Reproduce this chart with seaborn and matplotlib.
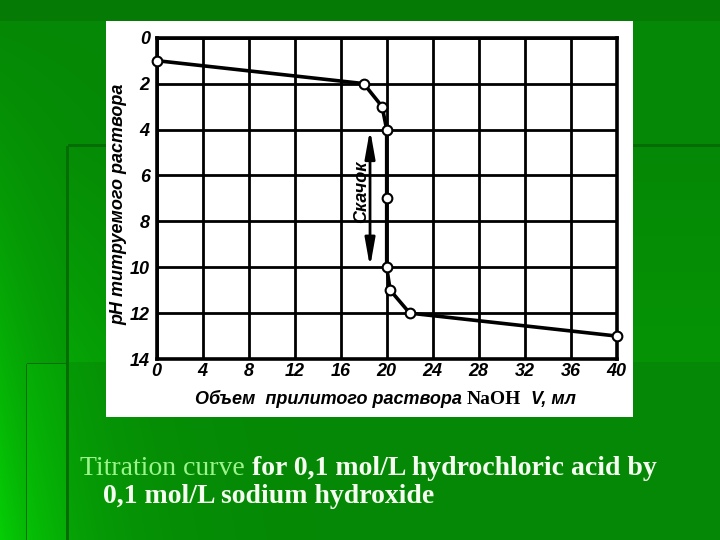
import numpy as np
import matplotlib
matplotlib.use("Agg")
import matplotlib.pyplot as plt
import seaborn as sns
from matplotlib.patches import Rectangle

# ---- data ----
volume_ml = [0, 18, 19.6, 20, 20, 20, 20.3, 22, 40]
ph_values = [1.0, 2.0, 3.0, 4.0, 7.0, 10.0, 11.0, 12.0, 13.0]
x_ticks = [0, 4, 8, 12, 16, 20, 24, 28, 32, 36, 40]
y_ticks = [0, 2, 4, 6, 8, 10, 12, 14]
jump_range = [4.0, 10.0]

sns.set_theme(style="white")
plt.rcParams['font.family'] = ['Liberation Sans', 'DejaVu Sans']

W, H = 720, 540
fig = plt.figure(figsize=(7.2, 5.4), dpi=100)

# ---- slide background ----
bg = fig.add_axes([0, 0, 1, 1], zorder=-10)
yy, xx = np.mgrid[0:H, 0:W].astype(float)
g = 136 + 70 * np.exp(-xx / 75.0) * (yy / H) ** 1.3
inner = (xx > 67) & (yy > 145) & (yy < 362)
g = np.where(inner, g + 12 * (yy - 145) / 217, g)
g = np.where((xx > 26) & (xx < 67) & (yy > 363), g + 8, g)
g = np.where(yy < 21, 122, g)
img = np.zeros((H, W, 3))
img[..., 1] = np.clip(g, 0, 255) / 255
img[..., 0] = 0.02
img[..., 2] = 0.02
dark = (((np.abs(xx - 67) < 1.5) & (yy > 145)) |
        ((np.abs(yy - 145) < 1.5) & (xx > 67)) |
        ((np.abs(xx - 26) < 1.0) & (yy > 363)) |
        ((np.abs(yy - 363) < 1.0) & (xx > 26) & (xx < 67)))
img[dark, 1] = 0.43
bg.imshow(img, extent=[0, 1, 0, 1], aspect='auto')
bg.set_axis_off()

# white panel
fig.patches.append(Rectangle((106 / W, 1 - 417 / H), (633 - 106) / W, (417 - 21) / H,
                             transform=fig.transFigure, facecolor='white',
                             edgecolor='none', zorder=-5))

# ---- chart ----
ax = fig.add_axes([156.7 / W, 1 - 359 / H, 460 / W, 321.3 / H])
ax.set_facecolor('white')

sns.lineplot(x=volume_ml, y=ph_values, sort=False, estimator=None, ax=ax,
             color='black', linewidth=2.6, marker='o', markersize=7,
             markerfacecolor='white', markeredgecolor='black',
             markeredgewidth=1.5, zorder=5, clip_on=False)

ax.set_xlim(0, 40)
ax.set_ylim(14, 0)
ax.set_xticks(x_ticks)
ax.set_yticks(y_ticks)
ax.grid(True, color='black', linewidth=2.0)
ax.set_axisbelow(True)
for s in ax.spines.values():
    s.set_visible(True)
    s.set_color('black')
    s.set_linewidth(2.6)

tick_font = dict(family='Liberation Sans', weight='bold', style='italic', size=13)
ax.set_xticklabels([str(t) for t in x_ticks], fontdict=tick_font)
ax.set_yticklabels([str(t) for t in y_ticks], fontdict=tick_font)
ax.tick_params(axis='both', length=0, colors='black')
ax.tick_params(axis='x', pad=3)
ax.tick_params(axis='y', pad=5)

ax.set_ylabel('pH титруемого раствора', fontdict=dict(family='Liberation Sans',
              weight='bold', style='italic', size=13), color='black')
ax.yaxis.set_label_coords(-0.064, 0.48)
ax.set_xlabel('')

# x label pieces
lab_y = -0.14
t1 = ax.text(0.083, lab_y, 'Объем  прилитого раствора ', transform=ax.transAxes,
             ha='left', va='baseline', family='Liberation Sans', weight='bold',
             style='italic', size=13, color='black')
fig.canvas.draw()
r = fig.canvas.get_renderer()
bb = t1.get_window_extent(r)
x_end = ax.transAxes.inverted().transform((bb.x1, bb.y0))[0]
t2 = ax.text(x_end, lab_y, 'NaOH', transform=ax.transAxes, ha='left', va='baseline',
             family='Liberation Serif', weight='bold', size=14, color='black')
bb2 = t2.get_window_extent(r)
x_end2 = ax.transAxes.inverted().transform((bb2.x1, bb2.y0))[0]
ax.text(x_end2 + 0.01, lab_y, ' V, мл', transform=ax.transAxes, ha='left',
        va='baseline', family='Liberation Sans', weight='bold', style='italic',
        size=13, color='black')

# jump arrow and label
ax.annotate('', xy=(18.55, jump_range[0]), xytext=(18.55, jump_range[1]),
            arrowprops=dict(arrowstyle='<|-|>,head_length=1.4,head_width=0.25',
                            color='black', lw=2.0, shrinkA=0, shrinkB=0), zorder=4)
ax.text(17.85, 6.7, 'Скачок', rotation=90, ha='center', va='center',
        family='Liberation Sans', weight='bold', style='italic', size=13,
        color='black', zorder=6)

# ---- caption ----
cap_size = 20
cap1a = fig.text(80 / W, 1 - 475 / H, 'Titration curve ', ha='left', va='baseline',
                 family='Liberation Serif', size=cap_size, color='#9cf58c')
fig.canvas.draw()
bbc = cap1a.get_window_extent(r)
fig.text(bbc.x1 / W, 1 - 475 / H, 'for 0,1 mol/L hydrochloric acid by', ha='left',
         va='baseline', family='Liberation Serif', weight='bold', size=cap_size,
         color='#f4fff0')
fig.text(103 / W, 1 - 503 / H, '0,1 mol/L sodium hydroxide', ha='left',
         va='baseline', family='Liberation Serif', weight='bold', size=cap_size,
         color='#f4fff0')

fig.savefig('out.png', dpi=100)
